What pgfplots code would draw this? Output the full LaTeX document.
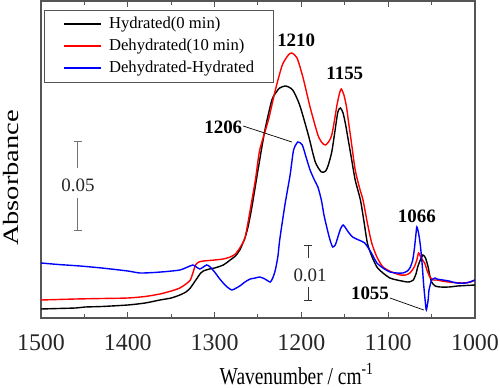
\documentclass[border=0pt]{standalone}
\usepackage{fontspec}
\setmainfont{Liberation Serif}
\usepackage{pgfplots}
\pgfplotsset{compat=1.18}
\definecolor{myred}{RGB}{255,0,0}
\definecolor{myblue}{RGB}{0,0,255}
\definecolor{framegray}{RGB}{85,85,85}
\pgfplotsset{
  /pgfplots/mylegline/.style={
    legend image code/.code={\draw[##1, line width=1.8bp] (0bp,0bp) -- (37bp,0bp);}
  }
}

\pgfplotstableread{
wn Y
1500 9
1480 9.5
1460 10
1449 11
1430 11.5
1400 13
1380 15
1363 18
1350 20
1340 23
1333 26
1328 30
1324 35
1320 40
1316 45
1313 47
1306 49
1300 50
1290 53
1282 58
1276 62
1271 68
1265 80
1261 93
1257 111
1250 148
1242 188
1234 218
1228 227
1225 230
1218 232
1210 228
1202 213
1192 183
1184 156
1177 146
1172 147
1169 153
1165 166
1162 183
1158 206
1155 210
1152 205
1149 193
1146 178
1142 158
1138 138
1132 118
1128 97
1124 75
1119 62
1113 51
1106 45
1098 40
1090 38
1078 36
1074 36.5
1071 38
1068 44
1066 51
1063 58
1060 63
1057 60
1054 51
1052 42
1050 36
1046 32
1040 31
1030 31
1020 32
1010 32.5
1000 33
}\hydrated

\pgfplotstableread{
wn Y
1500 18
1460 19
1430 19.5
1400 20
1380 21.5
1363 24
1350 27
1340 30
1333 34
1328 38
1325 45
1322 53
1318 56
1313 57
1306 57.5
1300 58
1290 59
1282 61
1276 64
1271 70
1267 76
1265 80
1262 93
1259 108
1253 138
1248 168
1238 198
1230 228
1222 253
1215 263
1211 265
1205 260
1198 240
1190 211
1181 183
1176 175
1172 173
1168 177
1165 183
1162 197
1159 213
1156 225
1154 229
1151 223
1148 211
1146 198
1142 173
1138 148
1133 130
1129 118
1124 95
1119 75
1113 61
1106 51
1096 46
1086 43
1080 43
1075 45
1070 51
1067 58
1065 65
1062 60
1058 55
1055 47
1052 41
1048 38
1044 38
1035 36.5
1025 35.5
1014 35
1005 36
1000 38
}\dehydrated

\pgfplotstableread{
wn Y
1500 55
1480 53.5
1455 52
1430 50
1400 47
1386 45
1370 45.5
1355 46.5
1340 48
1331 51
1325 53
1321 51
1317 49
1313 51
1309 53
1305 51
1300 46
1294 39
1288 33
1284 30
1280 28
1275 30
1271 32
1265 36
1259 39
1253 40
1248 41
1242 39
1236 36
1233 40
1230 48
1227 62
1225 78
1219 113
1213 143
1209 168
1204 176
1199 173
1195 162
1190 148
1185 138
1181 131
1177 118
1174 103
1170 88
1167 78
1164 71
1161 73
1159 78
1155 89
1152 93
1149 90
1146 86
1141 81
1134 78
1127 75
1120 66
1113 55
1106 50
1098 46
1090 45
1083 45
1078 47
1075 50
1072 57
1070 68
1068 84
1067 91
1065 85
1063 73
1061 55
1059 32
1057 14
1056 8
1054 18
1053 28
1051 35
1050 38
1046 40
1044 39
1037 38
1030 37
1021 35
1010 35
1000 38
}\difference

\begin{document}
\begin{tikzpicture}
\begin{axis}[
  at={(0,0)}, anchor=south west,
  scale only axis, width=434bp, height=317bp,
  x dir=reverse, xmin=1000, xmax=1500, ymin=0, ymax=317,
  xtick={1000,1100,1200,1300,1400,1500},
  minor xtick={1050,1150,1250,1350,1450},
  xticklabels={1000,1100,1200,1300,1400,1500},
  /pgf/number format/assume math mode=true,
  ytick=\empty,
  tick align=inside, xtick pos=both,
  major tick length=6bp, minor tick length=4bp,
  axis line style={framegray, line width=1.2bp},
  every tick/.style={framegray, line width=1bp},
  xticklabel style={font=\fontsize{24}{24}\selectfont, text=black!85, anchor=base, yshift=-32bp},
  xlabel={\scalebox{1}[1.25]{Wavenumber / cm\textsuperscript{-1}}},
  xlabel style={font=\fontsize{19.5}{19.5}\selectfont, at={(axis description cs:0.589,0)}, anchor=base, yshift=-66bp},
  ylabel={\scalebox{1.3}[1]{Absorbance}},
  ylabel style={font=\fontsize{22}{22}\selectfont, at={(axis description cs:-0.069,0.442)}, anchor=center},
  mylegline,
  legend style={at={(axis description cs:0.007,0.972)}, anchor=north west,
    draw=framegray, font=\fontsize{16.7}{16.7}\selectfont,
    inner xsep=19bp, inner ysep=6bp, row sep=6bp, column sep=7bp,
    nodes={inner sep=0bp, text height=12bp, text depth=4bp}},
  legend cell align=left,
  every axis plot/.append style={line width=1.4bp},
]
\addplot[black, smooth, tension=0.4] table[x=wn, y=Y] {\hydrated};
\addlegendentry{Hydrated(0 min)}
\addplot[myred, smooth, tension=0.4] table[x=wn, y=Y] {\dehydrated};
\addlegendentry{Dehydrated(10 min)}
\addplot[myblue, smooth, tension=0.4] table[x=wn, y=Y] {\difference};
\addlegendentry{Dehydrated-Hydrated}

% scale bar 0.05
\draw[black!55, line width=1bp] (axis cs:1457.4,176) -- (axis cs:1457.4,150);
\draw[black!55, line width=1bp] (axis cs:1457.4,120) -- (axis cs:1457.4,87);
\draw[black!55, line width=1bp] (axis cs:1462,176) -- (axis cs:1452.8,176);
\draw[black!55, line width=1bp] (axis cs:1462,87) -- (axis cs:1452.8,87);
\node[font=\fontsize{19}{19}\selectfont, text=black!85] at (axis cs:1457.4,133) {0.05};
% scale bar 0.01
\draw[black!80, line width=0.9bp] (axis cs:1192.4,73) -- (axis cs:1192.4,60);
\draw[black!80, line width=0.9bp] (axis cs:1196.5,73) -- (axis cs:1188.3,73);
\draw[black!80, line width=0.9bp] (axis cs:1192.4,31) -- (axis cs:1192.4,18);
\draw[black!80, line width=0.9bp] (axis cs:1196.5,18) -- (axis cs:1188.3,18);
\node[font=\fontsize{19}{19}\selectfont, text=black!85] at (axis cs:1190,43) {0.01};
% peak labels
\node[font=\bfseries\fontsize{19}{19}\selectfont] at (axis cs:1206,278) {1210};
\node[font=\bfseries\fontsize{19}{19}\selectfont] at (axis cs:1150,245) {1155};
\node[font=\bfseries\fontsize{19}{19}\selectfont] at (axis cs:1290,191) {1206};
\node[font=\bfseries\fontsize{19}{19}\selectfont] at (axis cs:1067,102) {1066};
\node[font=\bfseries\fontsize{19}{19}\selectfont] at (axis cs:1121,25) {1055};
\draw[black, line width=0.7bp] (axis cs:1267,192) -- (axis cs:1211,176);
\draw[black, line width=0.7bp] (axis cs:1098,20) -- (axis cs:1059,8);
\end{axis}
\pgfresetboundingbox
\path[use as bounding box] (-41bp,-70bp) rectangle (459bp,318bp);
\end{tikzpicture}
\end{document}
